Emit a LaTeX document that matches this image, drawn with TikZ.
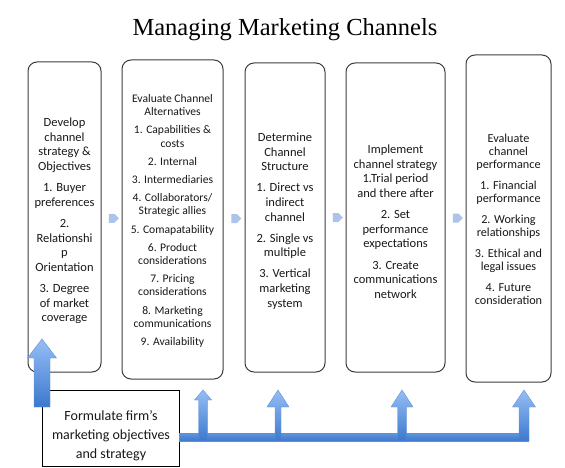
\documentclass[tikz,border=0pt]{standalone}
\usepackage{fontspec}
\setmainfont{Carlito}
\newfontfamily\titlefont{Liberation Serif}
\usetikzlibrary{shapes.symbols,calc}
\definecolor{chev}{RGB}{172,196,234}
\definecolor{arrtop}{RGB}{150,190,245}
\definecolor{arrbot}{RGB}{60,120,206}
\definecolor{arrline}{RGB}{95,145,215}
\definecolor{edge}{RGB}{60,60,60}
\definecolor{txt}{RGB}{25,25,25}
\newcommand\upArrowShape[6]{%
  \shade[top color=arrtop, bottom color=arrbot, draw=arrline, line width=0.4pt]
    (#1,#2) -- (#1+#4,#3) -- (#1+#5,#3) -- (#1+#5,#6) -- (#1-#5,#6)
    -- (#1-#5,#3) -- (#1-#4,#3) -- cycle;}
\tikzset{
  stagebox/.style={draw=edge, line width=1pt, rounded corners=9pt, fill=white, inner sep=0pt},
  stagetext/.style={align=center, text=txt, inner sep=0pt},
  chevron/.style={shape=signal, signal to=east, fill=chev, minimum width=10pt, minimum height=9pt, inner sep=0pt},
}
\begin{document}
\begin{tikzpicture}[x=1pt, y=-1pt]
\useasboundingbox (0,0) rectangle (565,468);
\fill[white] (0,0) rectangle (565,468);

\node[font=\titlefont\fontsize{24.5}{28}\selectfont, anchor=base] (title) at (285,36) {Managing Marketing Channels};

% stage boxes
\node[stagebox, minimum width=73, minimum height=310] (b1) at (64.5,217) {};
\node[stagebox, minimum width=101, minimum height=319] (b2) at (172.5,219.5) {};
\node[stagebox, minimum width=80, minimum height=309] (b3) at (285,217.5) {};
\node[stagebox, minimum width=99, minimum height=309] (b4) at (395.5,217.5) {};
\node[stagebox, minimum width=85, minimum height=327] (b5) at (508.5,218.5) {};

\node[stagetext, font=\fontsize{12.5}{14.5}\selectfont] (t1) at (64.5,221)
 {Develop\\channel\\strategy \&\\Objectives\\[7pt]1. Buyer\\preferences\\[7pt]2.\\Relationshi\\p\\Orientation\\[7pt]3. Degree\\of market\\coverage};
\node[stagetext, font=\fontsize{11.6}{13.2}\selectfont] (t2) at (172.5,221)
 {Evaluate Channel\\Alternatives\\[5pt]1. Capabilities \&\\costs\\[5pt]2. Internal\\[5pt]3. Intermediaries\\[5pt]4. Collaborators/\\Strategic allies\\[5pt]5. Comapatability\\[5pt]6. Product\\considerations\\[5pt]7. Pricing\\considerations\\[5pt]8. Marketing\\communications\\[5pt]9. Availability};
\node[stagetext, font=\fontsize{12.5}{14.8}\selectfont] (t3) at (285,221)
 {Determine\\Channel\\Structure\\[6pt]1. Direct vs\\indirect\\channel\\[6pt]2. Single vs\\multiple\\[6pt]3. Vertical\\marketing\\system};
\node[stagetext, font=\fontsize{12.5}{14.5}\selectfont] (t4) at (395.5,221.5)
 {Implement\\channel strategy\\1.Trial period\\and there after\\[7pt]2. Set\\performance\\expectations\\[7pt]3. Create\\communications\\network};
\node[stagetext, font=\fontsize{12.2}{13}\selectfont] (t5) at (508.5,219)
 {Evaluate\\channel\\performance\\[8pt]1. Financial\\performance\\[8pt]2. Working\\relationships\\[8pt]3. Ethical and\\legal issues\\[8pt]4. Future\\consideration};

% chevrons between stages
\node[chevron] (c12) at ($(b1.east)!0.5!(b2.west)$) {};
\node[chevron] (c23) at ($(b2.east)!0.5!(b3.west)$) {};
\node[chevron] (c34) at ($(b3.east)!0.5!(b4.west)$) {};
\node[chevron] (c45) at ($(b4.east)!0.5!(b5.west)$) {};

% formulate box
\node[draw=black, line width=0.9pt, fill=white, minimum width=137, minimum height=76, inner sep=0pt] (f) at (110.5,428) {};
\node[stagetext, font=\fontsize{14}{19}\selectfont] (ft) at (111,436)
 {Formulate firm’s\\marketing objectives\\and strategy};

% horizontal bar
\shade[top color=arrtop!40!arrbot, bottom color=arrbot, draw=arrline, line width=0.4pt]
  (179,433) rectangle (528,441);

% up arrows to stages
\upArrowShape{203}{390}{400}{8.5}{4.5}{441}
\upArrowShape{278}{390}{407}{11}{3}{441}
\upArrowShape{402}{390}{407}{11}{4.5}{441}
\upArrowShape{524}{390}{407}{11.5}{5}{441}

% big arrow to first stage
\upArrowShape{42}{339}{358}{14.5}{8}{407}
\end{tikzpicture}
\end{document}
